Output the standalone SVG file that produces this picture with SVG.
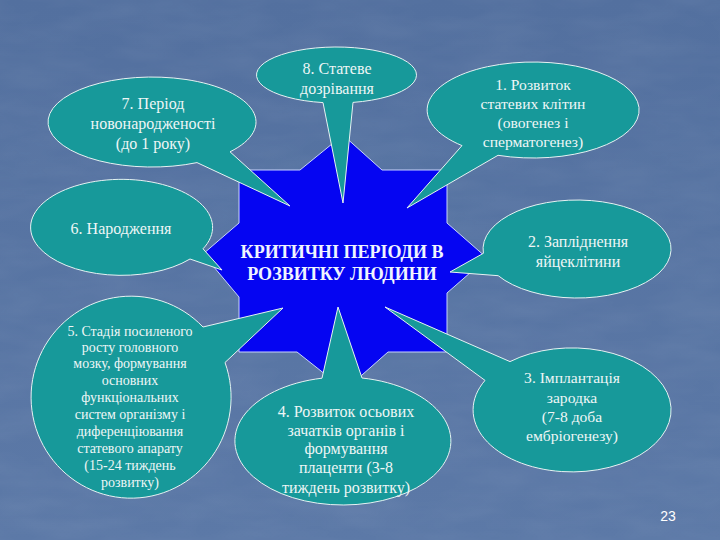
<svg xmlns="http://www.w3.org/2000/svg" width="720" height="540" viewBox="0 0 720 540">
  <defs>
    <filter id="tex" x="0" y="0" width="100%" height="100%">
      <feTurbulence type="fractalNoise" baseFrequency="0.015 0.05" numOctaves="3" seed="4" result="n"/>
      <feColorMatrix in="n" type="matrix" values="0 0 0 0 1  0 0 0 0 1  0 0 0 0 1  0 0 0 0.3 -0.08"/>
    </filter>
    <linearGradient id="bg" x1="0" y1="0" x2="0" y2="1">
      <stop offset="0" stop-color="#53709f"/>
      <stop offset="1" stop-color="#5c79a7"/>
    </linearGradient>
  </defs>
  <style>
    text { font-family: "Liberation Serif", "DejaVu Serif", serif; }
    .bubble { fill: #17999a; stroke: #e6f2f2; stroke-width: 1; }
    .star { fill: #0505f2; stroke: #c8d4ff; stroke-width: 1; }
    .t { fill: #eef6f6; text-anchor: middle; }
    .t16 { font-size: 16px; }
    .t15 { font-size: 15.6px; }
    .t14 { font-size: 14px; }
    .title { font-weight: bold; font-size: 18px; fill: #f0f4ff; text-anchor: middle; }
    .num { font-family: "Liberation Sans", Arial, sans-serif; font-size: 14px; fill: #ffffff; text-anchor: middle; }
  </style>

  <rect x="0" y="0" width="720" height="540" fill="url(#bg)"/>
  <rect x="0" y="0" width="720" height="540" filter="url(#tex)" opacity="0.25"/>

  <g id="center">
    <polygon class="star" points="343,135 382,170 447,170 447,223 487,258 447,293 447,352 388,352 345,390 297,352 239,352 239,297 203,254 239,223 239,170 300,170"/>
    <text class="title" x="342" y="258">КРИТИЧНІ ПЕРІОДИ В</text>
    <text class="title" x="342" y="280">РОЗВИТКУ ЛЮДИНИ</text>
  </g>

  <g id="connectors">
  </g>

  <g id="n8">
    <path class="bubble" d="M353,102.4 L343,203 L323,102.6 A80,28 0 1 1 353,102.4 Z"/>
    <text class="t t16" x="337" y="74">8. Статеве</text>
    <text class="t t16" x="337" y="94">дозрівання</text>
  </g>

  <g id="n7">
    <path class="bubble" d="M230,151.8 L290,206 L197,162.6 A104,45 0 1 1 230,151.8 Z"/>
    <text class="t t16" x="153" y="109">7. Період</text>
    <text class="t t16" x="153" y="129">новонародженості</text>
    <text class="t t16" x="153" y="149">(до 1 року)</text>
  </g>

  <g id="n1">
    <path class="bubble" d="M498,155.3 L407,208 L462,145.6 A106,48 0 1 1 498,155.3 Z"/>
    <text class="t t15" x="533" y="90">1. Розвиток</text>
    <text class="t t15" x="533" y="109">статевих клітин</text>
    <text class="t t15" x="533" y="128">(овогенез і</text>
    <text class="t t15" x="533" y="147">сперматогенез)</text>
  </g>

  <g id="n6">
    <path class="bubble" d="M203,248.8 L222,270 L190,259 A91,48 0 1 1 203,248.8 Z"/>
    <text class="t t16" x="121" y="234">6. Народження</text>
  </g>

  <g id="n2">
    <path class="bubble" d="M498.2,275.7 L450,272 L483.4,253.3 A94,49 0 1 1 498.2,275.7 Z"/>
    <text class="t t16" x="578" y="247">2. Запліднення</text>
    <text class="t t16" x="578" y="267">яйцеклітини</text>
  </g>

  <g id="n3">
    <path class="bubble" d="M485,380.4 L385,307 L510,361.6 A99,62 0 1 1 485,380.4 Z"/>
    <text class="t t15" x="572" y="383">3. Імплантація</text>
    <text class="t t15" x="572" y="403">зародка</text>
    <text class="t t15" x="572" y="422">(7-8 доба</text>
    <text class="t t15" x="572" y="441">ембріогенезу)</text>
  </g>

  <g id="n4">
    <path class="bubble" d="M322,378.2 L338,307 L362,378 A108,64 0 1 1 322,378.2 Z"/>
    <text class="t t16" x="346" y="417">4. Розвиток осьових</text>
    <text class="t t16" x="346" y="436">зачатків органів і</text>
    <text class="t t16" x="346" y="454">формування</text>
    <text class="t t16" x="346" y="473">плаценти (3-8</text>
    <text class="t t16" x="346" y="493">тиждень розвитку)</text>
  </g>

  <g id="n5">
    <path class="bubble" d="M203,327 L283,308 L225,362.5 A100,101 0 1 1 203,327 Z"/>
    <text class="t t14" x="130" y="336">5. Стадія посиленого</text>
    <text class="t t14" x="130" y="352">росту головного</text>
    <text class="t t14" x="130" y="368">мозку, формування</text>
    <text class="t t14" x="130" y="385">основних</text>
    <text class="t t14" x="130" y="402">функціональних</text>
    <text class="t t14" x="130" y="419">систем організму і</text>
    <text class="t t14" x="130" y="436">диференціювання</text>
    <text class="t t14" x="130" y="453">статевого апарату</text>
    <text class="t t14" x="130" y="470">(15-24 тиждень</text>
    <text class="t t14" x="130" y="487">розвитку)</text>
  </g>

  <text class="num" x="668" y="521">23</text>
</svg>
